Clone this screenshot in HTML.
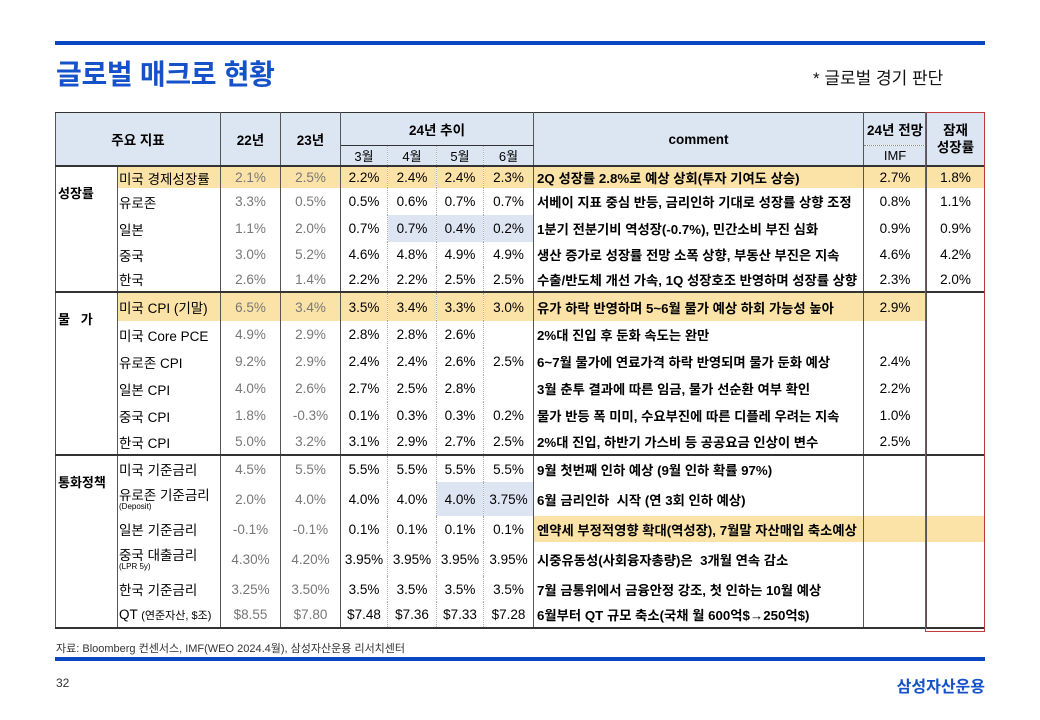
<!DOCTYPE html>
<html><head><meta charset="utf-8"><style>
body{margin:0;width:1040px;height:720px;background:#fff;position:relative;font-family:"Liberation Sans","Noto Sans CJK KR",sans-serif;overflow:hidden}
.bar{position:absolute;left:55px;width:930px;height:4px;background:#0a47c2}
.title{position:absolute;left:56px;top:53px;font-size:28px;color:#1552c9;font-weight:bold;letter-spacing:-0.3px}
.note{position:absolute;left:813px;top:64px;font-size:17px;color:#111}
table{position:absolute;left:55px;top:112px;border-collapse:collapse;table-layout:fixed;width:930px}
td{padding:0;font-size:13.5px;text-align:center;white-space:nowrap;overflow:hidden;border-left:1px solid #555;border-right:1px solid #555}
td.m{border-left:1px dotted #aaa;border-right:1px dotted #aaa}
td.m1{border-left:1px solid #555;border-right:1px dotted #aaa}
td.m4{border-left:1px dotted #aaa;border-right:1px solid #555}
.h td{background:#dce6f2;font-weight:bold;font-size:13.5px}
.h2 td{background:#dce6f2;font-weight:normal;font-size:13px}
td.g{text-align:left;vertical-align:top;font-weight:bold;padding:16px 0 0 2px;font-size:13px;background:#fff}
td.n{text-align:left;padding-left:1px;font-size:13.5px}
td.y{color:#777}
td.c{text-align:left;font-weight:bold;padding-left:3px;font-size:13.3px}
tr.top td{border-top:2px solid #333}
.yl td:not(.g){background:#fbe3a8}
.bl{background:#dde5f3 !important}
.yc{background:#fbe3a8}
small{font-size:8px;display:block;line-height:8px;font-weight:normal}
.red{position:absolute;left:925px;top:112px;width:58px;height:518px;border:1px solid #c23a3a}
.src{position:absolute;left:56px;top:640px;font-size:11px;color:#333}
.pg{position:absolute;left:56px;top:676px;font-size:12px;color:#333}
.logo{position:absolute;right:55px;top:673px;font-size:16px;font-weight:bold;color:#1552c9}
</style></head><body>
<div class="bar" style="top:41px"></div>
<div class="title">글로벌 매크로 현황</div>
<div class="note">* 글로벌 경기 판단</div>
<table>
<colgroup><col style="width:62px"><col style="width:103px"><col style="width:60px"><col style="width:60px"><col style="width:47px"><col style="width:49px"><col style="width:47px"><col style="width:50px"><col style="width:330px"><col style="width:63px"><col style="width:58px"></colgroup>
<tr class="h" style="height:33px"><td colspan="2" rowspan="2" style="border-top:1px solid #333">주요 지표</td><td rowspan="2" style="border-top:1px solid #333">22년</td><td rowspan="2" style="border-top:1px solid #333">23년</td><td colspan="4" style="border-top:1px solid #333;border-bottom:1px solid #333">24년 추이</td><td rowspan="2" style="border-top:1px solid #333">comment</td><td style="border-top:1px solid #333;border-bottom:1px dotted #888">24년 전망</td><td rowspan="2" style="border-top:1px solid #333;line-height:17px">잠재<br>성장률</td></tr>
<tr class="h2" style="height:17px"><td class="m1">3월</td><td class="m">4월</td><td class="m">5월</td><td class="m4">6월</td><td>IMF</td></tr>

<tr class="top yl" style="height:22px"><td class="g" rowspan="5">성장률</td><td class="n">미국 경제성장률</td><td class="y">2.1%</td><td class="y">2.5%</td><td class="m1">2.2%</td><td class="m">2.4%</td><td class="m">2.4%</td><td class="m4">2.3%</td><td class="c">2Q 성장률 2.8%로 예상 상회(투자 기여도 상승)</td><td>2.7%</td><td>1.8%</td></tr>
<tr style="height:27px"><td class="n">유로존</td><td class="y">3.3%</td><td class="y">0.5%</td><td class="m1">0.5%</td><td class="m">0.6%</td><td class="m">0.7%</td><td class="m4">0.7%</td><td class="c">서베이 지표 중심 반등, 금리인하 기대로 성장률 상향 조정</td><td>0.8%</td><td>1.1%</td></tr>
<tr style="height:27px"><td class="n">일본</td><td class="y">1.1%</td><td class="y">2.0%</td><td class="m1">0.7%</td><td class="m bl">0.7%</td><td class="m bl">0.4%</td><td class="m4 bl">0.2%</td><td class="c">1분기 전분기비 역성장(-0.7%), 민간소비 부진 심화</td><td>0.9%</td><td>0.9%</td></tr>
<tr style="height:25px"><td class="n">중국</td><td class="y">3.0%</td><td class="y">5.2%</td><td class="m1">4.6%</td><td class="m">4.8%</td><td class="m">4.9%</td><td class="m4">4.9%</td><td class="c">생산 증가로 성장률 전망 소폭 상향, 부동산 부진은 지속</td><td>4.6%</td><td>4.2%</td></tr>
<tr style="height:25px"><td class="n">한국</td><td class="y">2.6%</td><td class="y">1.4%</td><td class="m1">2.2%</td><td class="m">2.2%</td><td class="m">2.5%</td><td class="m4">2.5%</td><td class="c">수출/반도체 개선 가속, 1Q 성장호조 반영하며 성장률 상향</td><td>2.3%</td><td>2.0%</td></tr>

<tr class="top yl" style="height:29px"><td class="g" rowspan="6">물&nbsp;&nbsp;&nbsp;가</td><td class="n">미국 CPI (기말)</td><td class="y">6.5%</td><td class="y">3.4%</td><td class="m1">3.5%</td><td class="m">3.4%</td><td class="m">3.3%</td><td class="m4">3.0%</td><td class="c">유가 하락 반영하며 5~6월 물가 예상 하회 가능성 높아</td><td>2.9%</td><td style="background:#fff"></td></tr>
<tr style="height:27px"><td class="n">미국 Core PCE</td><td class="y">4.9%</td><td class="y">2.9%</td><td class="m1">2.8%</td><td class="m">2.8%</td><td class="m">2.6%</td><td class="m4"></td><td class="c">2%대 진입 후 둔화 속도는 완만</td><td></td><td></td></tr>
<tr style="height:27px"><td class="n">유로존 CPI</td><td class="y">9.2%</td><td class="y">2.9%</td><td class="m1">2.4%</td><td class="m">2.4%</td><td class="m">2.6%</td><td class="m4">2.5%</td><td class="c">6~7월 물가에 연료가격 하락 반영되며 물가 둔화 예상</td><td>2.4%</td><td></td></tr>
<tr style="height:27px"><td class="n">일본 CPI</td><td class="y">4.0%</td><td class="y">2.6%</td><td class="m1">2.7%</td><td class="m">2.5%</td><td class="m">2.8%</td><td class="m4"></td><td class="c">3월 춘투 결과에 따른 임금, 물가 선순환 여부 확인</td><td>2.2%</td><td></td></tr>
<tr style="height:27px"><td class="n">중국 CPI</td><td class="y">1.8%</td><td class="y">-0.3%</td><td class="m1">0.1%</td><td class="m">0.3%</td><td class="m">0.3%</td><td class="m4">0.2%</td><td class="c">물가 반등 폭 미미, 수요부진에 따른 디플레 우려는 지속</td><td>1.0%</td><td></td></tr>
<tr style="height:26px"><td class="n">한국 CPI</td><td class="y">5.0%</td><td class="y">3.2%</td><td class="m1">3.1%</td><td class="m">2.9%</td><td class="m">2.7%</td><td class="m4">2.5%</td><td class="c">2%대 진입, 하반기 가스비 등 공공요금 인상이 변수</td><td>2.5%</td><td></td></tr>

<tr class="top" style="height:27px"><td class="g" rowspan="6">통화정책</td><td class="n">미국 기준금리</td><td class="y">4.5%</td><td class="y">5.5%</td><td class="m1">5.5%</td><td class="m">5.5%</td><td class="m">5.5%</td><td class="m4">5.5%</td><td class="c">9월 첫번째 인하 예상 (9월 인하 확률 97%)</td><td></td><td></td></tr>
<tr style="height:34px"><td class="n" style="line-height:15px">유로존 기준금리<small>(Deposit)</small></td><td class="y">2.0%</td><td class="y">4.0%</td><td class="m1">4.0%</td><td class="m">4.0%</td><td class="m bl">4.0%</td><td class="m4 bl">3.75%</td><td class="c">6월 금리인하&nbsp; 시작 (연 3회 인하 예상)</td><td></td><td></td></tr>
<tr style="height:26px"><td class="n">일본 기준금리</td><td class="y">-0.1%</td><td class="y">-0.1%</td><td class="m1">0.1%</td><td class="m">0.1%</td><td class="m">0.1%</td><td class="m4">0.1%</td><td class="c yc">엔약세 부정적영향 확대(역성장), 7월말 자산매입 축소예상</td><td class="yc"></td><td class="yc"></td></tr>
<tr style="height:34px"><td class="n" style="line-height:15px">중국 대출금리<small>(LPR 5y)</small></td><td class="y">4.30%</td><td class="y">4.20%</td><td class="m1">3.95%</td><td class="m">3.95%</td><td class="m">3.95%</td><td class="m4">3.95%</td><td class="c">시중유동성(사회융자총량)은&nbsp; 3개월 연속 감소</td><td></td><td></td></tr>
<tr style="height:26px"><td class="n">한국 기준금리</td><td class="y">3.25%</td><td class="y">3.50%</td><td class="m1">3.5%</td><td class="m">3.5%</td><td class="m">3.5%</td><td class="m4">3.5%</td><td class="c">7월 금통위에서 금융안정 강조, 첫 인하는 10월 예상</td><td></td><td></td></tr>
<tr style="height:26px;border-bottom:2px solid #333"><td class="n">QT <span style="font-size:11px">(연준자산, $조)</span></td><td class="y">$8.55</td><td class="y">$7.80</td><td class="m1">$7.48</td><td class="m">$7.36</td><td class="m">$7.33</td><td class="m4">$7.28</td><td class="c">6월부터 QT 규모 축소(국채 월 600억$→250억$)</td><td></td><td></td></tr>
</table>
<div class="red"></div>
<div class="src">자료: Bloomberg 컨센서스, IMF(WEO 2024.4월), 삼성자산운용 리서치센터</div>
<div class="bar" style="top:657px"></div>
<div class="pg">32</div>
<div class="logo">삼성자산운용</div>
</body></html>
